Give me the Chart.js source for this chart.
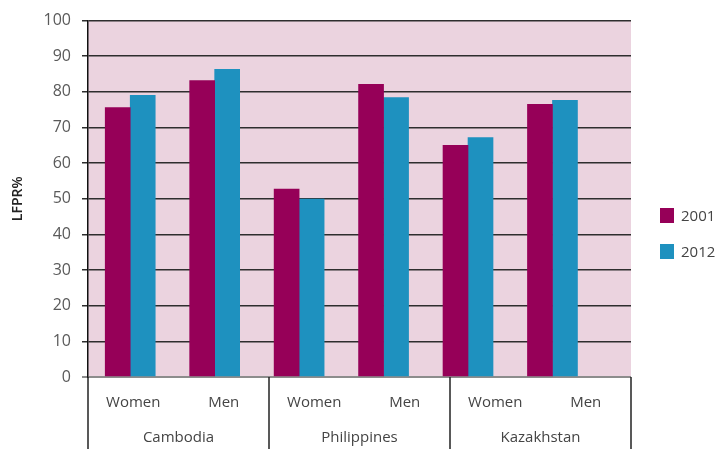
<!DOCTYPE HTML>
<html lang="en">
<head>
  <meta http-equiv="content-type" content="text/html; charset=UTF-8">
  <script src="https://cdn.jsdelivr.net/npm/chart.js"></script>
  <style>
    body { margin:0; background:#fff; }
    #wrap { position:relative; width:715px; height:449px; }
    .legend { position:absolute; left:660px; font:15px "Open Sans", sans-serif; color:#444; display:flex; align-items:center; }
    .legend span { display:inline-block; width:14px; height:15px; margin-right:7px; }
  </style>
</head>

<body>
  <div id="wrap">
    <canvas id="chart" width="715" height="449"></canvas>
  </div>

  <script>
    // Data //
    const countries = ['Cambodia', 'Philippines', 'Kazakhstan'];
    const sexes = ['Women', 'Men', 'Women', 'Men', 'Women', 'Men'];
    const series = ['2001', '2012'];
    const lfpr2001 = [75.6, 83.2, 52.7, 82.1, 65.0, 76.5];
    const lfpr2012 = [79.0, 86.3, 49.9, 78.4, 67.2, 77.6];
    const colors = ['#960058', '#1e91bf'];

    Chart.defaults.font.family = '"Open Sans", sans-serif';

    // pink plot area
    const plotBg = {
        id: 'plotBg',
        beforeDraw(chart) {
            const { ctx, chartArea: a } = chart;
            ctx.save();
            ctx.fillStyle = '#ebd3df';
            ctx.fillRect(a.left, a.top, a.right - a.left, a.bottom - a.top);
            ctx.restore();
        }
    };

    // vertical separators between country groups below the axis
    const groupLines = {
        id: 'groupLines',
        afterDraw(chart) {
            const s = chart.scales.xGroup;
            const { ctx, chartArea: a } = chart;
            ctx.save();
            ctx.strokeStyle = '#222';
            ctx.lineWidth = 1.5;
            for (let i = 0; i <= countries.length; i++) {
                const x = Math.round(s.getPixelForValue(i - 0.5));
                ctx.beginPath();
                ctx.moveTo(x, a.bottom);
                ctx.lineTo(x, chart.height);
                ctx.stroke();
            }
            ctx.restore();
        }
    };

    const toPoints = vals => vals.map((v, i) => ({ x: i, y: v }));

    new Chart(document.getElementById('chart'), {
        type: 'bar',
        data: {
            datasets: [
                { label: series[0], data: toPoints(lfpr2001), backgroundColor: colors[0] },
                { label: series[1], data: toPoints(lfpr2012), backgroundColor: colors[1] },
            ],
        },
        options: {
            responsive: false,
            animation: false,
            layout: { padding: { left: 0, right: 84, top: 20, bottom: 0 } },
            datasets: { bar: { barThickness: 25 } },
            plugins: { legend: { display: false }, tooltip: { enabled: false } },
            scales: {
                x: { type: 'linear', display: false, offset: false, min: -0.5, max: 5.93 },
                xSub: {
                    type: 'category', position: 'bottom', labels: sexes, offset: true, weight: 1,
                    grid: { display: false, drawTicks: false }, border: { display: false },
                    ticks: { color: '#444', font: { size: 15 }, padding: 17, maxRotation: 0, autoSkip: false },
                    afterFit: s => { s.height = 40; },
                },
                xGroup: {
                    type: 'category', position: 'bottom', labels: countries, offset: true, weight: 2,
                    grid: { display: false, drawTicks: false }, border: { display: false },
                    ticks: { color: '#444', font: { size: 15 }, padding: 12, maxRotation: 0 },
                    afterFit: s => { s.height = 32; },
                },
                y: {
                    min: 0, max: 100,
                    ticks: { stepSize: 10, color: '#5a5a5a', font: { size: 16 }, padding: 11 },
                    grid: {
                        color: c => c.tick && c.tick.value === 0 ? '#8c8c8c' : '#2e2e2e',
                        lineWidth: c => c.tick && c.tick.value === 0 ? 2 : 1.5,
                        tickLength: 6,
                    },
                    border: { color: '#111', width: 1.5 },
                    title: { display: true, text: 'LFPR%', color: '#222', font: { size: 14, weight: '600' }, padding: { top: 10, bottom: 4 } },
                    afterFit: s => { s.width = 88; },
                },
            },
        },
        plugins: [plotBg, groupLines],
    });

    // legend
    const wrap = document.getElementById('wrap');
    series.forEach((name, i) => {
        const d = document.createElement('div');
        d.className = 'legend';
        d.style.top = (205 + i * 36) + 'px';
        d.innerHTML = '<span style="background:' + colors[i] + '"></span>' + name;
        wrap.appendChild(d);
    });
  </script>
</body>
